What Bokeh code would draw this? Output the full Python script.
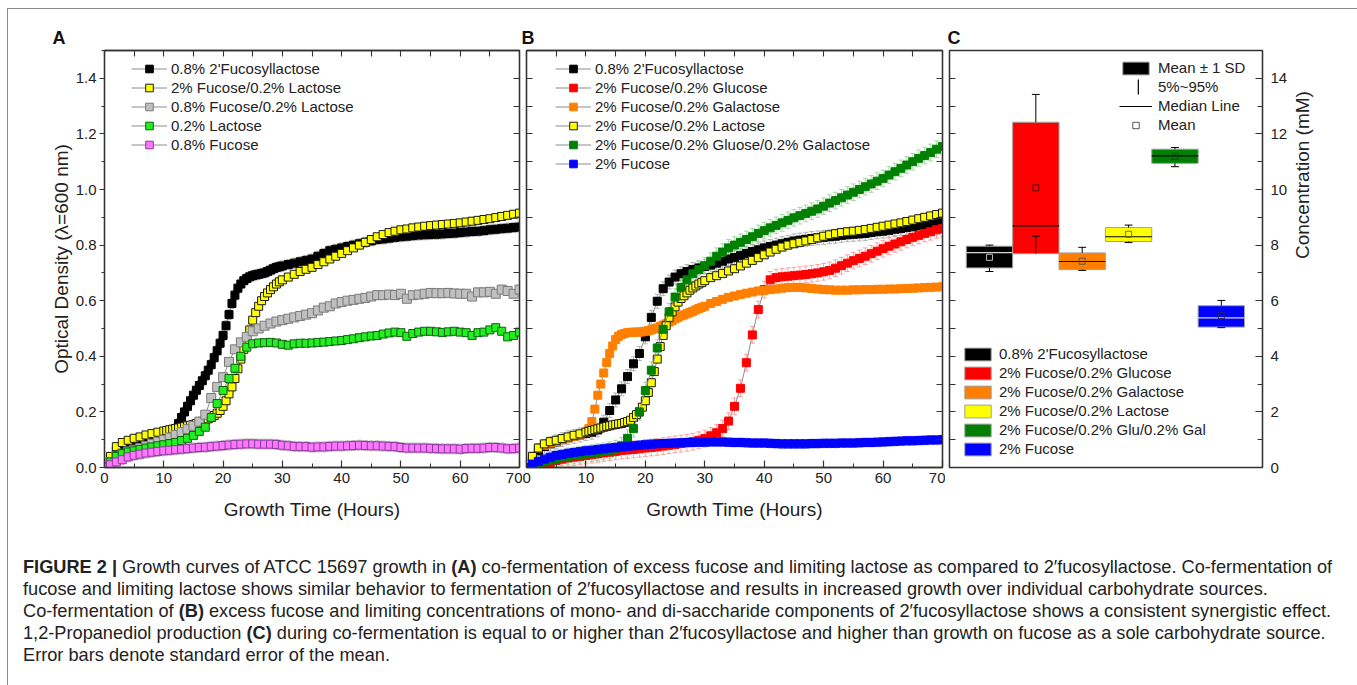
import math
from bokeh.plotting import figure
from bokeh.models import (ColumnDataSource, Whisker, TeeHead, Legend, LegendItem,
                          LinearAxis, FixedTicker, PrintfTickFormatter, Div, Range1d)
from bokeh.layouts import row, column
from bokeh.embed import file_html
from bokeh.resources import INLINE

FONT = "Liberation Sans"
TXT = "#222222"
AX = "#333333"

# ---------------- data ----------------
HOURS = list(range(0, 71))
# dense sampling grid (half-hourly through the fast-growth phase)
DENSE_HOURS = list(range(0, 10)) + [10 + 0.5 * i for i in range(41)] + list(range(31, 71))

X_TICKS = [0, 10, 20, 30, 40, 50, 60, 70]
X_MINOR = [5, 15, 25, 35, 45, 55, 65]
Y_TICKS = [0.0, 0.2, 0.4, 0.6, 0.8, 1.0, 1.2, 1.4]
Y_MINOR = [0.1, 0.3, 0.5, 0.7, 0.9, 1.1, 1.3, 1.5]
C_TICKS = [0, 2, 4, 6, 8, 10, 12, 14]
C_MINOR = [1, 3, 5, 7, 9, 11, 13, 15]

# Panel A
A_FL = ([0.0, 0.03, 0.06, 0.075, 0.085, 0.092, 0.10, 0.108, 0.113, 0.118]
        + [0.123, 0.125, 0.128, 0.133, 0.14, 0.158, 0.18, 0.20, 0.22, 0.24, 0.26, 0.278, 0.295,
           0.312, 0.33, 0.35, 0.37, 0.395, 0.42, 0.447, 0.475, 0.51, 0.55, 0.59, 0.62, 0.645,
           0.66, 0.672, 0.68, 0.686, 0.69, 0.693, 0.695, 0.698, 0.70, 0.705, 0.71, 0.715, 0.72,
           0.722, 0.725]
        + [0.73, 0.735, 0.74, 0.745, 0.75, 0.76, 0.77, 0.78, 0.785, 0.79,
           0.795, 0.80, 0.805, 0.81, 0.815, 0.82, 0.822, 0.825, 0.828, 0.83,
           0.832, 0.834, 0.836, 0.837, 0.838, 0.839, 0.84, 0.842, 0.843, 0.845,
           0.847, 0.849, 0.85, 0.852, 0.855, 0.857, 0.859, 0.861, 0.863, 0.865])
A_YEL = ([0.0, 0.04, 0.075, 0.09, 0.098, 0.105, 0.11, 0.117, 0.122, 0.127]
         + [0.131, 0.133, 0.136, 0.138, 0.14, 0.142, 0.145, 0.147, 0.15, 0.152, 0.155, 0.158,
            0.162, 0.166, 0.17, 0.175, 0.18, 0.187, 0.195, 0.205, 0.22, 0.24, 0.265, 0.29, 0.32,
            0.355, 0.39, 0.425, 0.46, 0.495, 0.53, 0.557, 0.58, 0.60, 0.615, 0.628, 0.64, 0.65,
            0.66, 0.668, 0.675]
         + [0.685, 0.695, 0.705, 0.713, 0.72, 0.73, 0.74, 0.75, 0.76, 0.77,
            0.78, 0.79, 0.80, 0.81, 0.82, 0.83, 0.838, 0.845, 0.85, 0.855,
            0.858, 0.862, 0.865, 0.868, 0.87, 0.872, 0.874, 0.876, 0.878, 0.88,
            0.883, 0.886, 0.889, 0.892, 0.895, 0.899, 0.903, 0.907, 0.911, 0.915])
A_GRY = [0.0, 0.02, 0.04, 0.05, 0.058, 0.064, 0.07, 0.077, 0.085, 0.093,
         0.10, 0.108, 0.117, 0.127, 0.138, 0.15, 0.165, 0.19, 0.25, 0.29,
         0.325, 0.38, 0.425, 0.45, 0.47, 0.49, 0.50, 0.51, 0.518, 0.525,
         0.53, 0.535, 0.54, 0.545, 0.55, 0.555, 0.565, 0.575, 0.58, 0.59,
         0.595, 0.60, 0.603, 0.607, 0.61, 0.615, 0.62, 0.62, 0.622, 0.62,
         0.625, 0.607, 0.62, 0.622, 0.625, 0.628, 0.627, 0.627, 0.628, 0.626,
         0.625, 0.625, 0.615, 0.63, 0.63, 0.632, 0.625, 0.64, 0.635, 0.625,
         0.64]
A_GRN = [0.0, 0.02, 0.04, 0.05, 0.056, 0.06, 0.065, 0.07, 0.074, 0.078,
         0.082, 0.086, 0.09, 0.097, 0.105, 0.115, 0.13, 0.145, 0.18, 0.23,
         0.277, 0.32, 0.357, 0.40, 0.433, 0.445, 0.448, 0.449, 0.45, 0.448,
         0.443, 0.44, 0.445, 0.447, 0.447, 0.448, 0.45, 0.451, 0.453, 0.455,
         0.457, 0.46, 0.463, 0.467, 0.47, 0.473, 0.475, 0.48, 0.484, 0.487,
         0.485, 0.472, 0.482, 0.487, 0.49, 0.49, 0.488, 0.486, 0.488, 0.49,
         0.487, 0.485, 0.475, 0.485, 0.487, 0.495, 0.503, 0.49, 0.47, 0.475,
         0.487]
A_MAG = [0.0, 0.01, 0.02, 0.028, 0.038, 0.044, 0.048, 0.052, 0.055, 0.058,
         0.06, 0.062, 0.064, 0.066, 0.068, 0.07, 0.072, 0.073, 0.075, 0.077,
         0.079, 0.081, 0.083, 0.084, 0.085, 0.085, 0.084, 0.084, 0.084, 0.083,
         0.08, 0.078, 0.076, 0.075, 0.075, 0.073, 0.074, 0.074, 0.076, 0.077,
         0.077, 0.078, 0.079, 0.08, 0.079, 0.078, 0.078, 0.077, 0.076, 0.075,
         0.072, 0.07, 0.07, 0.07, 0.07, 0.069, 0.068, 0.067, 0.067, 0.067,
         0.066, 0.068, 0.069, 0.069, 0.07, 0.072, 0.072, 0.07, 0.067, 0.068,
         0.07]

# Panel B
B_FL = [0.0, 0.03, 0.06, 0.075, 0.085, 0.092, 0.10, 0.107, 0.112, 0.117,
        0.122, 0.127, 0.135, 0.163, 0.205, 0.243, 0.283, 0.327, 0.373, 0.41,
        0.47, 0.54, 0.598, 0.643, 0.667, 0.685, 0.697, 0.705, 0.712, 0.718,
        0.723, 0.728, 0.735, 0.742, 0.75, 0.755, 0.762, 0.77, 0.777, 0.783,
        0.79, 0.795, 0.80, 0.805, 0.81, 0.815, 0.818, 0.821, 0.824, 0.826,
        0.828, 0.83, 0.832, 0.835, 0.837, 0.839, 0.84, 0.842, 0.845, 0.848,
        0.85, 0.853, 0.857, 0.86, 0.863, 0.866, 0.869, 0.872, 0.875, 0.877,
        0.88]
B_GLC = [0.0, 0.002, 0.005, 0.01, 0.018, 0.025, 0.03, 0.034, 0.037, 0.04,
         0.043, 0.046, 0.049, 0.052, 0.055, 0.058, 0.061, 0.063, 0.065, 0.067,
         0.07, 0.072, 0.074, 0.077, 0.08, 0.083, 0.086, 0.089, 0.093, 0.098,
         0.104, 0.114, 0.125, 0.14, 0.167, 0.22, 0.285, 0.377, 0.477, 0.568,
         0.64, 0.675, 0.683, 0.686, 0.688, 0.69, 0.692, 0.694, 0.697, 0.70,
         0.704, 0.709, 0.717, 0.726, 0.735, 0.744, 0.752, 0.76, 0.769, 0.778,
         0.787, 0.796, 0.804, 0.812, 0.82, 0.828, 0.835, 0.842, 0.848, 0.855,
         0.86]
B_GAL = ([0.0, 0.04, 0.07, 0.08, 0.088, 0.094, 0.10, 0.106, 0.112, 0.118]
         + [0.127, 0.14, 0.165, 0.21, 0.26, 0.30, 0.34, 0.378, 0.41, 0.437, 0.46, 0.472, 0.478,
            0.482, 0.485, 0.486, 0.487, 0.487, 0.487, 0.488, 0.49, 0.492, 0.495, 0.498, 0.502,
            0.507, 0.512, 0.517, 0.523, 0.529, 0.535, 0.54, 0.545, 0.549, 0.553, 0.558, 0.562,
            0.567, 0.572, 0.576, 0.58]
         + [0.59, 0.597, 0.605, 0.612, 0.617, 0.622, 0.627, 0.631, 0.635, 0.637,
            0.64, 0.642, 0.645, 0.647, 0.648, 0.648, 0.646, 0.644, 0.642, 0.64,
            0.639, 0.638, 0.638, 0.638, 0.639, 0.639, 0.64, 0.64, 0.641, 0.641,
            0.642, 0.642, 0.643, 0.644, 0.645, 0.646, 0.647, 0.648, 0.649, 0.65])
B_YEL = ([0.0, 0.04, 0.07, 0.085, 0.093, 0.098, 0.104, 0.11, 0.116, 0.121]
         + [0.127, 0.13, 0.133, 0.136, 0.139, 0.142, 0.145, 0.148, 0.15, 0.153, 0.155, 0.157,
            0.158, 0.162, 0.165, 0.17, 0.18, 0.19, 0.20, 0.217, 0.24, 0.27, 0.305, 0.345, 0.39,
            0.435, 0.475, 0.51, 0.54, 0.56, 0.578, 0.595, 0.608, 0.618, 0.628, 0.638, 0.646,
            0.653, 0.66, 0.665, 0.672]
         + [0.683, 0.69, 0.698, 0.707, 0.715, 0.725, 0.735, 0.745, 0.755, 0.765,
            0.775, 0.785, 0.793, 0.80, 0.805, 0.81, 0.815, 0.82, 0.826, 0.832,
            0.837, 0.841, 0.845, 0.848, 0.85, 0.853, 0.856, 0.86, 0.864, 0.868,
            0.872, 0.876, 0.88, 0.885, 0.89, 0.895, 0.90, 0.905, 0.91, 0.915])
B_GG = [0.0, 0.005, 0.012, 0.02, 0.027, 0.032, 0.036, 0.04, 0.043, 0.046,
        0.049, 0.052, 0.055, 0.058, 0.062, 0.068, 0.078, 0.105, 0.14, 0.20,
        0.277, 0.35, 0.43, 0.497, 0.56, 0.613, 0.648, 0.675, 0.697, 0.712,
        0.726, 0.742, 0.76, 0.775, 0.79, 0.80, 0.81, 0.82, 0.83, 0.842,
        0.852, 0.862, 0.871, 0.88, 0.889, 0.898, 0.906, 0.914, 0.922, 0.93,
        0.94, 0.951, 0.96, 0.97, 0.98, 0.99, 1.0, 1.01, 1.02, 1.03,
        1.04, 1.052, 1.064, 1.076, 1.088, 1.10, 1.112, 1.122, 1.133, 1.145,
        1.155]
B_FUC = [0.0, 0.012, 0.022, 0.03, 0.037, 0.043, 0.047, 0.051, 0.054, 0.057,
         0.06, 0.062, 0.065, 0.067, 0.07, 0.072, 0.074, 0.076, 0.078, 0.08,
         0.082, 0.084, 0.085, 0.086, 0.087, 0.088, 0.089, 0.09, 0.09, 0.091,
         0.091, 0.092, 0.092, 0.092, 0.091, 0.09, 0.09, 0.089, 0.088, 0.088,
         0.088, 0.087, 0.086, 0.085, 0.085, 0.085, 0.085, 0.085, 0.086, 0.086,
         0.087, 0.087, 0.087, 0.088, 0.088, 0.088, 0.089, 0.09, 0.09, 0.091,
         0.092, 0.093, 0.094, 0.095, 0.096, 0.096, 0.097, 0.098, 0.099, 0.099,
         0.10]

# typical standard error per series
A_SE = [0.018, 0.012, 0.012, 0.008, 0.018]
B_SE = [0.025, 0.03, 0.012, 0.012, 0.03, 0.016]

A_LABELS = ["0.8% 2'Fucosyllactose", "2% Fucose/0.2% Lactose", "0.8% Fucose/0.2% Lactose",
            "0.2% Lactose", "0.8% Fucose"]
B_LABELS = ["0.8% 2'Fucosyllactose", "2% Fucose/0.2% Glucose", "2% Fucose/0.2% Galactose",
            "2% Fucose/0.2% Lactose", "2% Fucose/0.2% Gluose/0.2% Galactose", "2% Fucose"]

# Panel C (1,2-propanediol, mM)
C_LABELS = ["0.8% 2'Fucosyllactose", "2% Fucose/0.2% Glucose", "2% Fucose/0.2% Galactose",
            "2% Fucose/0.2% Lactose", "2% Fucose/0.2% Glu/0.2% Gal", "2% Fucose"]
C_SD_HI = [7.96, 12.42, 7.72, 8.63, 11.45, 5.82]
C_SD_LO = [7.18, 7.69, 7.12, 8.13, 10.94, 5.05]
C_P95 = [8.00, 13.42, 7.92, 8.72, 11.51, 6.01]
C_P5 = [7.05, 8.32, 7.09, 8.09, 10.82, 5.03]
C_MEDIAN = [7.73, 8.69, 7.41, 8.30, 11.21, 5.38]
C_MEAN = [7.56, 10.06, 7.42, 8.39, 11.19, 5.46]

for s in (A_FL, A_YEL, B_GAL, B_YEL):
    assert len(s) == len(DENSE_HOURS), len(s)
for s in (A_GRY, A_GRN, A_MAG, B_FL, B_GLC, B_GG, B_FUC):
    assert len(s) == len(HOURS), len(s)

# ---------------- styles ----------------
A_STYLE = [  # fill, outline, error bar colour, size
    ("#000000", "#000000", "#a0a0a0", 8),
    ("#ffff00", "#1a1a1a", "#6e6e6e", 8),
    ("#c0c0c0", "#7a7a7a", "#a8a8a8", 9),
    ("#22ee22", "#106010", "#8a8a8a", 8),
    ("#ff77ff", "#8a3a9a", "#a8a8a8", 8),
]
B_STYLE = [
    ("#000000", "#000000", "#a0a0a0", 8),
    ("#ff0000", "#ff0000", "#ff8c8c", 8),
    ("#ff8000", "#ff8000", "#ffb570", 8),
    ("#ffff00", "#1a1a1a", "#6e6e6e", 8),
    ("#008000", "#008000", "#8fd08f", 8),
    ("#0000ff", "#0000ff", "#8c8cff", 8),
]
C_COLORS = ["#000000", "#ff0000", "#ff8000", "#ffff00", "#008000", "#0000ff"]
C_MED_COLORS = ["#d8d8d8", "#000000", "#000000", "#000000", "#000000", "#d8d8d8"]
C_MEAN_COLORS = ["#bbbbbb", "#5a0000", "#555555", "#777700", "#333333", "#222266"]


def base_axis(ax):
    ax.axis_line_color = AX
    ax.axis_line_width = 1.3
    ax.major_tick_line_color = AX
    ax.minor_tick_line_color = AX
    ax.major_tick_line_width = 1.2
    ax.minor_tick_line_width = 1.0


def labelled_axis(ticks, minor, tick_in=0, tick_out=0, minor_in=0, minor_out=0,
                  standoff=4, label=None, label_standoff=5, fmt=None):
    ax = LinearAxis(ticker=FixedTicker(ticks=ticks, minor_ticks=minor))
    if fmt is not None:
        ax.formatter = fmt
    base_axis(ax)
    ax.major_tick_in = tick_in
    ax.major_tick_out = tick_out
    ax.minor_tick_in = minor_in
    ax.minor_tick_out = minor_out
    ax.major_label_text_font = FONT
    ax.major_label_text_color = TXT
    ax.major_label_text_font_size = "15px"
    ax.major_label_standoff = standoff
    if label:
        ax.axis_label = label
        ax.axis_label_text_font = FONT
        ax.axis_label_text_font_size = "19px"
        ax.axis_label_text_font_style = "normal"
        ax.axis_label_text_color = TXT
        ax.axis_label_standoff = label_standoff
    return ax


def tick_only_axis(ticks, minor, length=6):
    # all marks drawn as (unlabelled) minor ticks
    ax = LinearAxis(ticker=FixedTicker(ticks=[], minor_ticks=sorted(ticks + minor)))
    base_axis(ax)
    ax.major_tick_in = 0
    ax.major_tick_out = 0
    ax.minor_tick_in = length
    ax.minor_tick_out = 0
    ax.minor_tick_line_width = 1.1
    ax.major_label_standoff = 0
    return ax


def style_title(p, offset):
    p.title.text_font = FONT
    p.title.text_font_size = "18px"
    p.title.text_font_style = "bold"
    p.title.text_color = "#111111"
    p.title.align = "left"
    p.title.offset = offset
    p.title.standoff = 6


def make_growth_fig(width, left, right, letter, letter_offset, with_ylabels):
    p = figure(width=width, height=516, x_range=Range1d(0, 70), y_range=Range1d(0, 1.5),
               output_backend="svg", toolbar_location=None,
               x_axis_location=None, y_axis_location=None,
               min_border_left=left, min_border_right=right,
               min_border_top=41, min_border_bottom=58,
               outline_line_color=AX, outline_line_width=1.3,
               background_fill_color="white", border_fill_color="white", title=letter)
    style_title(p, letter_offset)
    p.xgrid.visible = False
    p.ygrid.visible = False

    p.add_layout(labelled_axis(X_TICKS, X_MINOR, tick_in=7, minor_in=4, standoff=5,
                               label="Growth Time (Hours)", label_standoff=13), "below")
    p.add_layout(tick_only_axis(X_TICKS, X_MINOR), "above")
    if with_ylabels:
        p.add_layout(labelled_axis(Y_TICKS, Y_MINOR, tick_out=5, minor_out=3, standoff=3,
                                   label="Optical Density (\u03bb=600 nm)", label_standoff=1,
                                   fmt=PrintfTickFormatter(format="%.1f")), "left")
    else:
        p.add_layout(tick_only_axis(Y_TICKS, Y_MINOR), "left")
    p.add_layout(tick_only_axis(Y_TICKS, Y_MINOR), "right")
    return p


def add_series(p, t, y, se, style, label, items):
    fill, line, err, size = style
    src = ColumnDataSource(dict(t=t, y=y,
                                lo=[v - se for v in y], up=[v + se for v in y]))
    w = Whisker(source=src, base="t", lower="lo", upper="up", line_color=err, line_width=0.8,
                upper_head=TeeHead(size=5, line_color=err, line_width=0.8),
                lower_head=TeeHead(size=5, line_color=err, line_width=0.8))
    p.add_layout(w)
    lr = p.line("t", "y", source=src, line_color="#8c8c8c", line_width=1)
    sr = p.scatter("t", "y", source=src, marker="square", size=size,
                   fill_color=fill, line_color=line, line_width=1)
    items.append(LegendItem(label=label, renderers=[lr, sr]))


def make_legend(items, loc, gw, gh, lh, spacing, standoff):
    return Legend(items=items, location=loc, orientation="vertical",
                  glyph_width=gw, glyph_height=gh, label_height=lh, spacing=spacing,
                  padding=0, margin=0, label_standoff=standoff,
                  label_text_font=FONT, label_text_font_size="15px", label_text_color=TXT,
                  border_line_color=None, background_fill_alpha=0)


# ---------------- panel A ----------------
pA = make_growth_fig(514, 96, 3, "A", -52, True)
itemsA = []
A_SERIES = [(DENSE_HOURS, A_FL), (DENSE_HOURS, A_YEL), (HOURS, A_GRY), (HOURS, A_GRN), (HOURS, A_MAG)]
for (t, y), se, st, lab in zip(A_SERIES, A_SE, A_STYLE, A_LABELS):
    add_series(pA, t, y, se, st, lab, itemsA)
pA.add_layout(make_legend(itemsA, (27, 313), 36, 19, 19, 0, 4))

# ---------------- panel B ----------------
pB = make_growth_fig(423, 4, 3, "B", -5, False)
itemsB = []
B_SERIES = [(HOURS, B_FL), (HOURS, B_GLC), (DENSE_HOURS, B_GAL), (DENSE_HOURS, B_YEL),
            (HOURS, B_GG), (HOURS, B_FUC)]
for (t, y), se, st, lab in zip(B_SERIES, B_SE, B_STYLE, B_LABELS):
    add_series(pB, t, y, se, st, lab, itemsB)
pB.add_layout(make_legend(itemsB, (29, 294), 36, 19, 19, 0, 4))

# ---------------- panel C ----------------
BOX_W = 1.0
CAP_W = 0.085
pos = list(range(1, len(C_LABELS) + 1))
pC = figure(width=410, height=516, x_range=Range1d(0.138, 6.888), y_range=Range1d(0, 15),
            output_backend="svg", toolbar_location=None,
            x_axis_location=None, y_axis_location=None,
            min_border_left=4, min_border_right=93, min_border_top=41, min_border_bottom=58,
            outline_line_color=AX, outline_line_width=1.3,
            background_fill_color="white", border_fill_color="white", title="C")
style_title(pC, -2)
pC.xgrid.visible = False
pC.ygrid.visible = False

pC.add_layout(tick_only_axis(C_TICKS, C_MINOR), "left")
cr = labelled_axis(C_TICKS, C_MINOR, tick_in=7, minor_in=5, standoff=8,
                   label="Concentration (mM)", label_standoff=12)
cr.axis_label_orientation = math.pi / 2
pC.add_layout(cr, "right")

csrc = ColumnDataSource(dict(
    x=pos,
    left=[v - BOX_W / 2 for v in pos], right=[v + BOX_W / 2 for v in pos],
    cap_l=[v - CAP_W for v in pos], cap_r=[v + CAP_W for v in pos],
    hi=C_SD_HI, lo=C_SD_LO, p95=C_P95, p5=C_P5, med=C_MEDIAN, mean=C_MEAN,
    color=C_COLORS, medc=C_MED_COLORS, meanc=C_MEAN_COLORS))

box_r = pC.quad(left="left", right="right", bottom="lo", top="hi", source=csrc,
                fill_color="color", line_color="#a0a0a0", line_width=1)
pC.segment(x0="x", y0="hi", x1="x", y1="p95", source=csrc, line_color="black", line_width=1)
pC.segment(x0="x", y0="lo", x1="x", y1="p5", source=csrc, line_color="black", line_width=1)
pC.segment(x0="cap_l", y0="p95", x1="cap_r", y1="p95", source=csrc, line_color="black", line_width=1)
pC.segment(x0="cap_l", y0="p5", x1="cap_r", y1="p5", source=csrc, line_color="black", line_width=1)
med_r = pC.segment(x0="left", y0="med", x1="right", y1="med", source=csrc,
                   line_color="medc", line_width=1.2)
mean_r = pC.scatter(x="x", y="mean", source=csrc, marker="square", size=6,
                    fill_color=None, line_color="meanc", line_width=1)
# legend-only symbol for the 5%~95% range (a thin vertical bar; no visible data)
NAN = float("nan")
range_sym = pC.quad(left=[NAN], right=[NAN], bottom=[NAN], top=[NAN],
                    fill_color="#111111", line_color=None)

pC.add_layout(make_legend([LegendItem(label="Mean \u00b1 1 SD", renderers=[box_r], index=0)],
                          (170, 391), 33, 16, 16, 2, 6))
pC.add_layout(make_legend([LegendItem(label="5%~95%", renderers=[range_sym], index=0)],
                          (188, 371), 2, 19, 16, 0, 19))
pC.add_layout(make_legend([LegendItem(label="Median Line", renderers=[med_r], index=1),
                           LegendItem(label="Mean", renderers=[mean_r], index=2)],
                          (170, 334), 33, 16, 16, 2, 6))
pC.add_layout(make_legend([LegendItem(label=lab, renderers=[box_r], index=i)
                           for i, lab in enumerate(C_LABELS)],
                          (12, 10), 33, 16, 16, 2, 5))

# ---------------- caption ----------------
CAPTION = [
    "<b>FIGURE 2 |</b> Growth curves of ATCC 15697 growth in <b>(A)</b> co-fermentation of excess "
    "fucose and limiting lactose as compared to 2\u2032fucosyllactose. Co-fermentation of",
    "fucose and limiting lactose shows similar behavior to fermentation of 2\u2032fucosyllactose "
    "and results in increased growth over individual carbohydrate sources.",
    "Co-fermentation of <b>(B)</b> excess fucose and limiting concentrations of mono- and "
    "di-saccharide components of 2\u2032fucosyllactose shows a consistent synergistic effect.",
    "1,2-Propanediol production <b>(C)</b> during co-fermentation is equal to or higher than "
    "2\u2032fucosyllactose and higher than growth on fucose as a sole carbohydrate source.",
    "Error bars denote standard error of the mean.",
]
cap = Div(text=("<div style=\"font-family:'Liberation Sans',Arial,sans-serif;font-size:18.2px;"
                "line-height:22px;color:#222;white-space:nowrap;padding:26px 0 0 10px;\">"
                + "<br>".join(CAPTION) + "</div>"),
          width=1347, height=150)

layout = column(row(pA, pB, pC), cap,
                styles={"margin-left": "7px", "margin-top": "8px",
                        "border-top": "1px solid #8a8a8a", "border-left": "1px solid #8a8a8a",
                        "border-right": "1px solid #8a8a8a"})

open("out.html", "w").write(file_html(layout, INLINE))
